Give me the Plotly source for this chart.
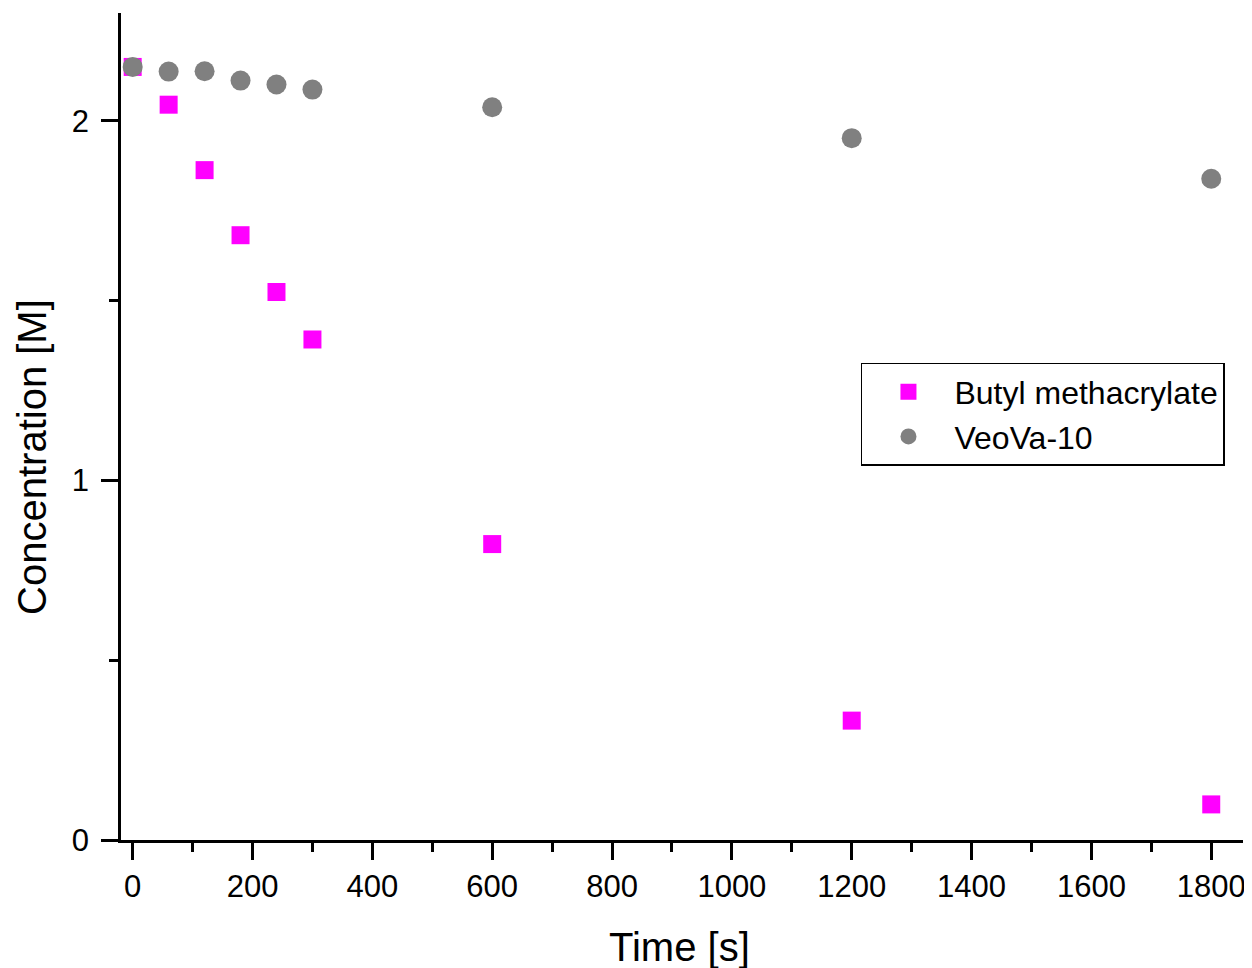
import plotly.graph_objects as go

time_s = [0, 60, 120, 180, 240, 300, 600, 1200, 1800]
butyl_methacrylate = [2.15, 2.045, 1.863, 1.682, 1.524, 1.392, 0.823, 0.332, 0.099]
veova_10 = [2.15, 2.137, 2.138, 2.112, 2.101, 2.087, 2.038, 1.952, 1.839]

x_ticks = [0, 200, 400, 600, 800, 1000, 1200, 1400, 1600, 1800]
y_ticks = [0, 1, 2]

FONT = "Liberation Sans, Arial, sans-serif"

fig = go.Figure()
fig.add_trace(go.Scatter(
    x=time_s, y=butyl_methacrylate, mode="markers", name="Butyl methacrylate",
    marker=dict(symbol="square", size=18, color="#FF00FF", line=dict(width=0)),
))
fig.add_trace(go.Scatter(
    x=time_s, y=veova_10, mode="markers", name="VeoVa-10",
    marker=dict(symbol="circle", size=20, color="#808080", line=dict(width=0)),
))

fig.update_layout(
    width=1244, height=960,
    margin=dict(l=113, r=9, t=5, b=128),
    paper_bgcolor="white", plot_bgcolor="white",
    font=dict(family=FONT, size=31, color="black"),
    showlegend=True,
    legend=dict(
        x=0.6595, y=0.5768, xanchor="left", yanchor="top",
        bgcolor="white", bordercolor="black", borderwidth=1.5,
        font=dict(family=FONT, size=32, color="black"),
        itemwidth=82, tracegroupgap=0,
    ),
    xaxis=dict(
        range=[-19.5, 1853], showgrid=False, zeroline=False,
        showline=True, linecolor="black", linewidth=2.5,
        ticks="outside", ticklen=17, tickwidth=2.5, tickcolor="black",
        tickmode="array", tickvals=x_ticks, ticktext=[str(v) for v in x_ticks],
        tickfont=dict(family=FONT, size=31),
        minor=dict(dtick=100, tick0=0, ticks="outside", ticklen=9, tickwidth=2.5, tickcolor="black", showgrid=False),
    ),
    yaxis=dict(
        range=[0, 2.3], showgrid=False, zeroline=False,
        showline=True, linecolor="black", linewidth=2.5,
        ticks="outside", ticklen=17, tickwidth=2.5, tickcolor="black",
        tickmode="array", tickvals=y_ticks, ticktext=[str(v) for v in y_ticks],
        tickfont=dict(family=FONT, size=31), ticklabelstandoff=6,
        minor=dict(dtick=0.5, tick0=0, ticks="outside", ticklen=9, tickwidth=2.5, tickcolor="black", showgrid=False),
    ),
    annotations=[
        dict(text="Time [s]", xref="paper", yref="paper", x=0.4974, y=-0.129,
             xanchor="center", yanchor="middle", showarrow=False,
             font=dict(family=FONT, size=40, color="black")),
        dict(text="Concentration [M]", xref="paper", yref="paper", x=-0.0795, y=0.463,
             xanchor="center", yanchor="middle", showarrow=False, textangle=-90,
             font=dict(family=FONT, size=40, color="black")),
    ],
)

fig.write_html("out.html")
